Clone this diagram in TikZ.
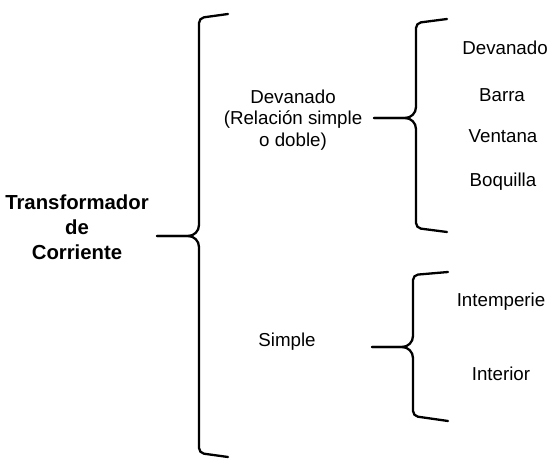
\documentclass[tikz,border=0pt]{standalone}
\usepackage{fontspec}
\setmainfont{Liberation Sans}
\begin{document}
\begin{tikzpicture}[
        x=1bp, y=-1bp,
        every node/.style={align=center, inner sep=0pt, font=\fontsize{18.8}{21.7}\selectfont},
        root/.style={font=\bfseries\fontsize{20.4}{25.3}\selectfont},
        leaf/.style={anchor=base},
        brace/.style={line width=2.3bp, line cap=round}
    ]
    \useasboundingbox (0,0) rectangle (554,476);
    % texts
    \node[root] (tc) at (77,227) {Transformador\\de\\Corriente};
    \node (dev) at (293,120) {Devanado\\(Relación simple\\o doble)};
    \node[leaf] (simple) at (287,346.7) {Simple};
    \node[leaf] (l-dev) at (505,55) {Devanado};
    \node[leaf] (l-barra) at (502,101.7) {Barra};
    \node[leaf] (l-vent) at (503,142.7) {Ventana};
    \node[leaf] (l-boq) at (503,186.7) {Boquilla};
    \node[leaf] (l-int) at (501,306.7) {Intemperie};
    \node[leaf] (l-inter) at (501,380.7) {Interior};
    % main brace
    \coordinate (b1-top) at (228,14);
    \coordinate (b1-c1) at (199,18);
    \coordinate (b1-mid) at (199,236);
    \coordinate (b1-tip) at (157,236);
    \coordinate (b1-c2) at (199,453);
    \coordinate (b1-bot) at (228,457);
    \draw[brace] (b1-top) [rounded corners=5bp] -- (b1-c1) [rounded corners=11bp] -- (b1-mid) -- (b1-tip);
    \draw[brace] (b1-bot) [rounded corners=5bp] -- (b1-c2) [rounded corners=11bp] -- (b1-mid) -- (b1-tip);
    % devanado brace
    \coordinate (b2-top) at (447,19);
    \coordinate (b2-c1) at (416,23);
    \coordinate (b2-mid) at (416,118);
    \coordinate (b2-tip) at (374,118);
    \coordinate (b2-c2) at (416,228);
    \coordinate (b2-bot) at (447,232);
    \draw[brace] (b2-top) [rounded corners=5bp] -- (b2-c1) [rounded corners=11bp] -- (b2-mid) -- (b2-tip);
    \draw[brace] (b2-bot) [rounded corners=5bp] -- (b2-c2) [rounded corners=11bp] -- (b2-mid) -- (b2-tip);
    % simple brace
    \coordinate (b3-top) at (448,272);
    \coordinate (b3-c1) at (413,275);
    \coordinate (b3-mid) at (413,347);
    \coordinate (b3-tip) at (372,347);
    \coordinate (b3-c2) at (413,416);
    \coordinate (b3-bot) at (448,421);
    \draw[brace] (b3-top) [rounded corners=5bp] -- (b3-c1) [rounded corners=11bp] -- (b3-mid) -- (b3-tip);
    \draw[brace] (b3-bot) [rounded corners=5bp] -- (b3-c2) [rounded corners=11bp] -- (b3-mid) -- (b3-tip);
\end{tikzpicture}
\end{document}
